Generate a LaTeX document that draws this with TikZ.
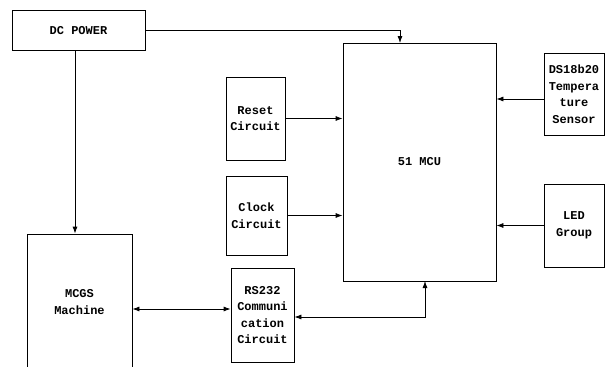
\documentclass[tikz,border=0pt]{standalone}
\usepackage{fontspec}
\setmonofont{Liberation Mono}
\usetikzlibrary{arrows.meta}
\begin{document}
\begin{tikzpicture}[x=1pt,y=-1pt,
  box/.style={draw, line width=0.8pt, inner sep=0pt, align=center,
    font=\ttfamily\bfseries\fontsize{12}{16.5}\selectfont},
  arr/.style={line width=0.8pt, -{Latex[length=7pt,width=5pt]}},
  darr/.style={line width=0.8pt, {Latex[length=7pt,width=5pt]}-{Latex[length=7pt,width=5pt]}}]
\useasboundingbox (0,0) rectangle (606,367);
\clip (0,0) rectangle (606,367);
\node[box, minimum width=133pt, minimum height=40pt] (dc) at (78.5,30.5) {DC POWER};
\node[box, minimum width=153pt, minimum height=238pt] (mcu) at (419.5,162) {51 MCU};
\node[box, minimum width=59pt, minimum height=83pt] (reset) at (255.5,118.5) {Reset\\Circuit};
\node[box, minimum width=61pt, minimum height=79pt] (clock) at (256.5,215.5) {Clock\\Circuit};
\node[box, minimum width=60pt, minimum height=82pt] (ds) at (574,94) {DS18b20\\Tempera\\ture\\Sensor};
\node[box, minimum width=60pt, minimum height=83pt] (led) at (574,225.5) {LED\\Group};
\node[box, minimum width=105pt, minimum height=136pt] (mcgs) at (79.5,302) {MCGS\\Machine};
\node[box, minimum width=63pt, minimum height=94pt] (rs) at (262.5,315) {RS232\\Communi\\cation\\Circuit};
\coordinate (mcutop) at (400,43);
\coordinate (mcubot) at (425,281);
\draw[arr] (dc.east) -| (mcutop);
\draw[arr] ([xshift=-3.5pt]dc.south) -- ([xshift=-3.5pt]dc.south |- mcgs.north);
\draw[arr] (reset.east) -- (reset.east -| mcu.west);
\draw[arr] (clock.east) -- (clock.east -| mcu.west);
\draw[arr] ([yshift=-5pt]ds.west) -- ([yshift=-5pt]ds.west -| mcu.east);
\draw[arr] (led.west) -- (led.west -| mcu.east);
\draw[darr] ([yshift=6pt]rs.west -| mcgs.east) -- ([yshift=6pt]rs.west);
\draw[darr] ([yshift=-2pt]rs.east) -| (mcubot);
\end{tikzpicture}
\end{document}
